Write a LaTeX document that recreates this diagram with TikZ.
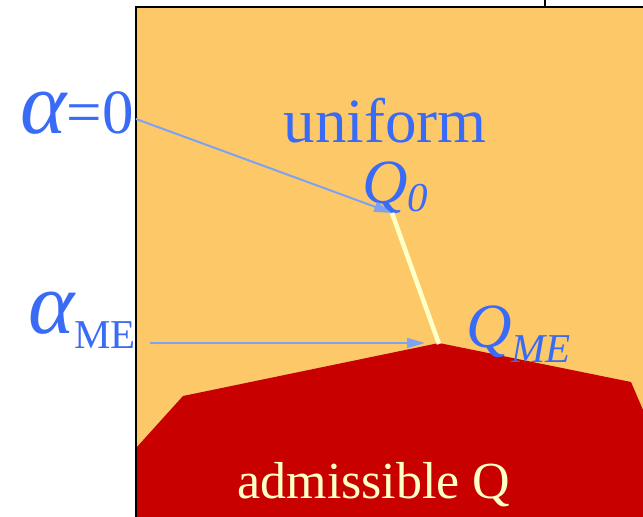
\documentclass[tikz,border=0pt]{standalone}
\usepackage{fontspec}
\setmainfont{Liberation Serif}
\usetikzlibrary{arrows.meta}
\definecolor{orangefill}{HTML}{FDC968}
\definecolor{admred}{HTML}{C80000}
\definecolor{labblue}{HTML}{3A6BF7}
\definecolor{arrblue}{HTML}{7DA2F0}
\definecolor{cream}{HTML}{FFFFC8}
\tikzset{
  lab/.style={text=labblue, inner sep=0pt, outer sep=0pt},
  pointer/.style={draw=arrblue, line width=2pt, -{Triangle[length=18pt,width=10pt]}},
  path line/.style={draw=cream, line width=4.5pt},
}
\newcommand{\bigalpha}{{\fontsize{88}{88}\selectfont\itshape α}}
\begin{document}
\begin{tikzpicture}[x=1pt,y=-1pt]
\useasboundingbox (0,0) rectangle (643,517);
% background region
\fill[orangefill] (136,7) rectangle (643,517);
% admissible region
\fill[admred] (136,448) -- (183,396) -- (439,343) -- (631,382) -- (643,410) -- (643,517) -- (136,517) -- cycle;
% border
\draw[black, line width=2pt] (136,517) -- (136,7) -- (643,7);
\draw[black, line width=2.5pt] (545,0) -- (545,7);
% labels
\node[lab, anchor=base] (uniform) at (385,142) {\fontsize{63}{63}\selectfont uniform};
\node[lab, anchor=base west] (q0) at (362,203) {\fontsize{63}{63}\selectfont\itshape Q\raisebox{-8pt}{\fontsize{41}{41}\selectfont 0}};
\node[lab, anchor=base west] (qme) at (466,347) {\fontsize{63}{63}\selectfont\itshape Q\raisebox{-15pt}{\fontsize{41}{41}\selectfont ME}};
\node[lab, anchor=base east] (alpha0) at (134,133) {\bigalpha\fontsize{63}{63}\selectfont =0};
\node[lab, anchor=base east] (alphame) at (136,333) {\bigalpha\raisebox{-15pt}{\fontsize{41}{41}\selectfont ME}};
\node[text=cream, inner sep=0pt, anchor=base] (adm) at (374,498) {\fontsize{52}{52}\selectfont admissible Q};
% connector points
\coordinate (a0start) at (136,119);
\coordinate (q0pt) at (392,213);
\coordinate (amestart) at (150,343);
\coordinate (qmept) at (439,344);
\coordinate (amend) at (425,343);
% connectors
\draw[path line] (q0pt) -- (qmept);
\draw[pointer] (a0start) -- (q0pt);
\draw[pointer] (amestart) -- (amend);
\end{tikzpicture}
\end{document}
